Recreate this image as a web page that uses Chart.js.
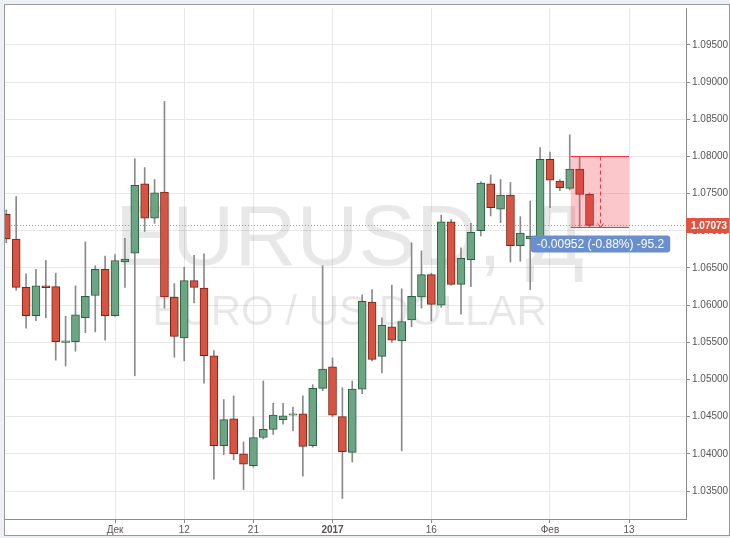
<!DOCTYPE html>
<html lang="ru">
<head>
<meta charset="utf-8">
<title>EURUSD, Д</title>
<script src="https://cdn.jsdelivr.net/npm/chart.js@4.4.1/dist/chart.umd.min.js"></script>
<style>
    html, body { margin: 0; padding: 0; background: #edf0f4; }
    #wrap { position: relative; width: 730px; height: 538px; }
</style>
</head>
<body>
<div id="wrap"><canvas id="candleChart" width="730" height="538"></canvas></div>
<script>
// --- Data (дневные свечи EURUSD, 16 ноя 2016 - 7 фев 2017) ---
const opens = [
    1.0722, 1.0689, 1.0624, 1.0586, 1.0626, 1.0625, 1.0550, 1.0551, 1.0583, 1.0613,
    1.0648, 1.0586, 1.0658, 1.0670, 1.0763, 1.0717, 1.0752, 1.0611, 1.0556, 1.0633,
    1.0623, 1.0532, 1.0411, 1.0447, 1.0400, 1.0384, 1.0422, 1.0433, 1.0446, 1.0452,
    1.0454, 1.0411, 1.0488, 1.0517, 1.0450, 1.0402, 1.0487, 1.0604, 1.0531, 1.0571,
    1.0552, 1.0580, 1.0611, 1.0641, 1.0600, 1.0712, 1.0628, 1.0661, 1.0700, 1.0763,
    1.0729, 1.0748, 1.0680, 1.0689, 1.0691, 1.0796, 1.0767, 1.0757, 1.0783, 1.0749
];
const highs = [
    1.0728, 1.0746, 1.0642, 1.0648, 1.0660, 1.0643, 1.0585, 1.0626, 1.0685, 1.0653,
    1.0666, 1.0668, 1.0690, 1.0797, 1.0785, 1.0769, 1.0874, 1.0629, 1.0651, 1.0667,
    1.0669, 1.0539, 1.0473, 1.0478, 1.0416, 1.0450, 1.0498, 1.0468, 1.0468, 1.0463,
    1.0478, 1.0493, 1.0653, 1.0529, 1.0489, 1.0498, 1.0614, 1.0621, 1.0583, 1.0627,
    1.0622, 1.0684, 1.0673, 1.0643, 1.0721, 1.0715, 1.0677, 1.0710, 1.0766, 1.0775,
    1.0769, 1.0765, 1.0719, 1.0740, 1.0812, 1.0806, 1.0769, 1.0829, 1.0800, 1.0751
];
const lows = [
    1.0684, 1.0620, 1.0569, 1.0579, 1.0583, 1.0526, 1.0518, 1.0538, 1.0563, 1.0564,
    1.0553, 1.0585, 1.0624, 1.0505, 1.0699, 1.0710, 1.0596, 1.0530, 1.0525, 1.0603,
    1.0495, 1.0366, 1.0399, 1.0392, 1.0352, 1.0382, 1.0420, 1.0426, 1.0440, 1.0431,
    1.0370, 1.0409, 1.0485, 1.0450, 1.0340, 1.0389, 1.0481, 1.0525, 1.0509, 1.0550,
    1.0404, 1.0571, 1.0596, 1.0579, 1.0597, 1.0627, 1.0588, 1.0625, 1.0693, 1.0720,
    1.0711, 1.0658, 1.0659, 1.0621, 1.0680, 1.0731, 1.0754, 1.0755, 1.0706, 1.0705
];
const closes = [
    1.0689, 1.0624, 1.0586, 1.0626, 1.06235, 1.0551, 1.0552, 1.0587, 1.0612, 1.0648,
    1.0586, 1.0660, 1.0662, 1.0761, 1.0717, 1.0751, 1.0611, 1.0558, 1.0633, 1.0624,
    1.0532, 1.0411, 1.0446, 1.0400, 1.0386, 1.0422, 1.0433, 1.0452, 1.0451, 1.0454,
    1.0410, 1.0488, 1.0514, 1.0452, 1.0403, 1.0487, 1.0605, 1.0527, 1.0573, 1.0553,
    1.0578, 1.0612, 1.0641, 1.0601, 1.0712, 1.0628, 1.0663, 1.0698, 1.0764, 1.0731,
    1.0748, 1.0680, 1.0697, 1.0693, 1.0796, 1.0768, 1.0758, 1.0783, 1.0749, 1.07073
];

// подписи оси X (индекс торгового дня -> текст)
const xTickIndex = [11, 18, 25, 33, 43, 55, 63];
const xTickLabels = ['Дек', '12', '21', '2017', '16', 'Фев', '13'];
const yTickValues = [1.035, 1.04, 1.045, 1.05, 1.055, 1.06, 1.065, 1.07, 1.075, 1.08, 1.085, 1.09, 1.095];

const lastPrice = 1.07073;
// инструмент "измерение": [x0, x1], [цена сверху, цена снизу]
const measureX = [57.1, 63.0];
const measureY = [1.0800, 1.07048];
const measureText = '-0.00952 (-0.88%) -95.2';

const UP_FILL = '#6ba583', UP_LINE = '#2b5e3f';
const DN_FILL = '#d75442', DN_LINE = '#7a2418';
const FONT = '"Liberation Sans", Arial, sans-serif';

// --- Plugins ---

const frameBackground = {
    id: 'frameBackground',
    beforeDraw(chart) {
        const { ctx, width, height } = chart;
        ctx.save();
        ctx.fillStyle = '#edf0f4';
        ctx.fillRect(0, 0, width, height);
        ctx.fillStyle = '#ffffff';
        ctx.fillRect(4.5, 4.5, width - 5, height - 7);
        ctx.strokeStyle = '#9a9a9a';
        ctx.lineWidth = 1;
        ctx.strokeRect(4.5, 4.5, width - 5, height - 7);
        ctx.restore();
    }
};

const watermark = {
    id: 'watermark',
    beforeDatasetsDraw(chart) {
        const { ctx, chartArea: a, scales: { y } } = chart;
        const cx = (a.left + a.right) / 2 + 4;
        ctx.save();
        ctx.beginPath();
        ctx.rect(a.left, a.top, a.right - a.left, a.bottom - a.top);
        ctx.clip();
        ctx.fillStyle = 'rgba(0, 0, 0, 0.09)';
        ctx.textAlign = 'center';
        ctx.textBaseline = 'alphabetic';
        ctx.font = '86px ' + FONT;
        ctx.fillText('EURUSD, Д', cx, 265);
        ctx.font = '42px ' + FONT;
        ctx.fillText('EURO / US DOLLAR', cx, 325);

        // пунктир текущей цены
        const py = Math.round(y.getPixelForValue(lastPrice)) + 0.5;
        ctx.strokeStyle = 'rgba(224, 83, 63, 0.75)';
        ctx.setLineDash([1, 2]);
        ctx.beginPath();
        ctx.moveTo(a.left, py);
        ctx.lineTo(a.right, py);
        ctx.stroke();
        ctx.restore();
    }
};

const overlays = {
    id: 'overlays',
    afterDatasetsDraw(chart) {
        const { ctx, chartArea: a, scales: { x, y } } = chart;
        ctx.save();

        // прямоугольник измерения
        const x0 = x.getPixelForValue(measureX[0]);
        const x1 = x.getPixelForValue(measureX[1]);
        const yt = Math.round(y.getPixelForValue(measureY[0])) + 0.5;
        const yb = Math.round(y.getPixelForValue(measureY[1])) + 0.5;
        ctx.fillStyle = 'rgba(242, 54, 69, 0.28)';
        ctx.fillRect(x0, yt, x1 - x0, yb - yt);
        ctx.strokeStyle = '#f23645';
        ctx.lineWidth = 1;
        ctx.beginPath();
        ctx.moveTo(x0, yt); ctx.lineTo(x1, yt);
        ctx.moveTo(x0, yb); ctx.lineTo(x1, yb);
        ctx.stroke();

        const xm = Math.round((x0 + x1) / 2) + 0.5;
        ctx.setLineDash([4, 3]);
        ctx.beginPath();
        ctx.moveTo(xm, yt); ctx.lineTo(xm, yb);
        ctx.stroke();
        ctx.setLineDash([]);
        ctx.beginPath();
        ctx.moveTo(xm - 3, yb - 4); ctx.lineTo(xm, yb); ctx.lineTo(xm + 3, yb - 4);
        ctx.stroke();

        // подпись измерения
        ctx.font = '12px ' + FONT;
        const tw = ctx.measureText(measureText).width;
        const bw = tw + 12, bh = 17, bx = xm - bw / 2, by = yb + 8;
        ctx.fillStyle = '#6a8fcf';
        ctx.beginPath();
        ctx.roundRect(bx, by, bw, bh, 3);
        ctx.fill();
        ctx.fillStyle = '#ffffff';
        ctx.textAlign = 'center';
        ctx.textBaseline = 'middle';
        ctx.fillText(measureText, xm, by + bh / 2 + 1);

        // метка цены на правой шкале
        const py = y.getPixelForValue(lastPrice);
        ctx.fillStyle = '#e0533f';
        ctx.fillRect(a.right, Math.round(py) - 7, chart.width - a.right - 1, 15);
        ctx.fillStyle = '#ffffff';
        ctx.font = 'bold 10px ' + FONT;
        ctx.textAlign = 'left';
        ctx.fillText(lastPrice.toFixed(5), a.right + 5, Math.round(py) + 1);
        ctx.restore();
    }
};

// --- Chart ---

function buildDatasets() {
    const bodies = [], wicks = [], fills = [], lines = [];
    opens.forEach((o, i) => {
        const c = closes[i];
        const up = c >= o;
        let lo = Math.min(o, c), hi = Math.max(o, c);
        if (hi - lo < 0.00012) hi = lo + 0.00012; // доджи
        bodies.push({ x: i, y: [lo, hi] });
        wicks.push({ x: i, y: [lows[i], highs[i]] });
        fills.push(up ? UP_FILL : DN_FILL);
        lines.push(up ? UP_LINE : DN_LINE);
    });
    return [
        {
            label: 'body', data: bodies, order: 0,
            backgroundColor: fills, borderColor: lines,
            borderWidth: 1, borderSkipped: false, barThickness: 8, grouped: false
        },
        {
            label: 'wick', data: wicks, order: 1,
            backgroundColor: '#8a8a8a', borderWidth: 0, barThickness: 1, grouped: false
        }
    ];
}

function initCandleChart(canvasId) {
    const ctx = document.getElementById(canvasId).getContext('2d');
    return new Chart(ctx, {
        type: 'bar',
        data: { datasets: buildDatasets() },
        options: {
            responsive: false,
            animation: false,
            devicePixelRatio: 1,
            layout: { padding: { left: 5, top: 5, right: 1, bottom: 3 } },
            plugins: { legend: { display: false }, tooltip: { enabled: false } },
            scales: {
                x: {
                    type: 'linear',
                    min: -0.13,
                    max: 68.76,
                    offset: false,
                    afterBuildTicks: (scale) => { scale.ticks = xTickIndex.map(v => ({ value: v })); },
                    afterFit: (scale) => { scale.height = 16; },
                    grid: { offset: false, color: '#e8e8e8', tickColor: '#8c8c8c', tickLength: 4 },
                    border: { color: '#8c8c8c' },
                    ticks: {
                        padding: 1,
                        maxRotation: 0,
                        autoSkip: false,
                        color: '#555555',
                        font: (c) => ({
                            family: FONT, size: 10,
                            weight: c.tick && c.tick.value === 33 ? 'bold' : 'normal'
                        }),
                        callback: (v) => xTickLabels[xTickIndex.indexOf(v)]
                    }
                },
                y: {
                    position: 'right',
                    min: 1.03124,
                    max: 1.09996,
                    afterBuildTicks: (scale) => { scale.ticks = yTickValues.map(v => ({ value: v })); },
                    afterFit: (scale) => { scale.width = 43; },
                    grid: { color: '#e8e8e8', tickColor: '#8c8c8c', tickLength: 4 },
                    border: { color: '#8c8c8c' },
                    ticks: {
                        padding: 2,
                        color: '#555555',
                        font: { family: FONT, size: 10 },
                        callback: (v) => Number(v).toFixed(5)
                    }
                }
            }
        },
        plugins: [frameBackground, watermark, overlays]
    });
}

initCandleChart('candleChart');
</script>
</body>
</html>
